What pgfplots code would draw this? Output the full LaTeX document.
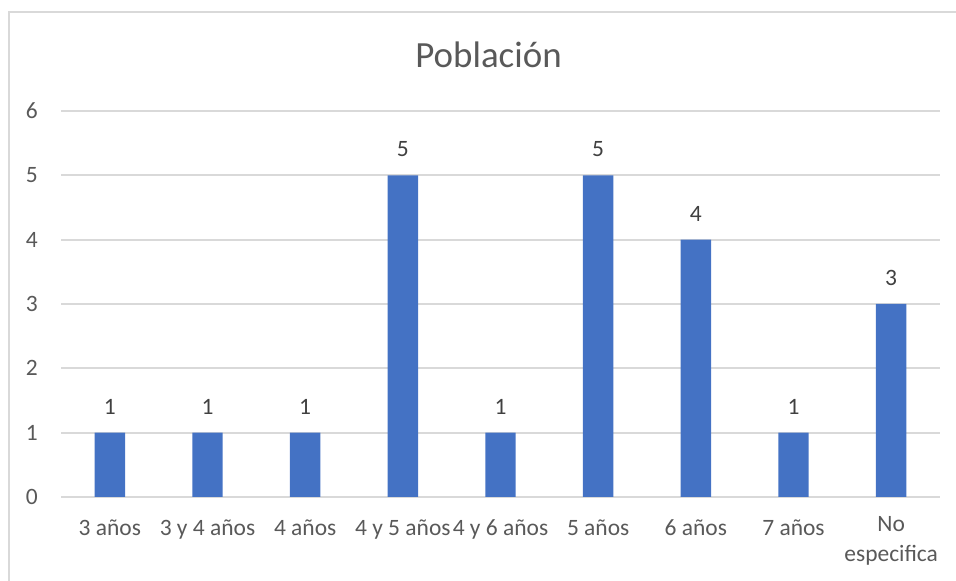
\documentclass[border=0pt]{standalone}
\usepackage{pgfplots}
\pgfplotsset{compat=1.18}
\usepackage{fontspec}
\setmainfont{Carlito}
\definecolor{barblue}{HTML}{4472C4}
\definecolor{gridgray}{HTML}{D9D9D9}
\definecolor{txtgray}{HTML}{595959}
\definecolor{lblgray}{HTML}{404040}
\begin{document}
\begin{tikzpicture}
\path[use as bounding box] (0,0) rectangle (717pt,435.75pt);
\draw[gridgray, line width=1.5pt] (6.75pt,-2pt) -- (6.75pt,426.75pt) -- (720pt,426.75pt);
\begin{axis}[
  at={(45.75pt,63pt)}, anchor=south west,
  scale only axis, width=659.25pt, height=289.5pt,
  xmin=-0.5, xmax=8.5, ymin=0, ymax=6,
  ybar, bar width=22.8pt,
  axis line style={draw=none},
  major tick length=0pt,
  ymajorgrids, grid style={gridgray, line width=1.5pt},
  ytick={0,1,2,3,4,5,6},
  xtick={0,1,2,3,4,5,6,7,8},
  xticklabels={3 años,3 y 4 años,4 años,4 y 5 años,4 y 6 años,5 años,6 años,7 años,No\\especifica},
  /pgf/number format/assume math mode=true,
  yticklabel style={anchor=east, inner sep=0pt, xshift=-17.25pt, text=txtgray, font=\fontsize{17.6}{22.5}\selectfont},
  xticklabel style={anchor=north, inner sep=0pt, yshift=-14.5pt, text=txtgray, align=center, execute at begin node={\rule{0pt}{14pt}}, font=\fontsize{17.6}{22.5}\selectfont},
  nodes near coords,
  every node near coord/.append style={anchor=base, inner sep=0pt, yshift=13.9pt, text=lblgray, font=\fontsize{17.6}{22.5}\selectfont},
]
\addplot[fill=barblue, draw=none] coordinates {(0,1) (1,1) (2,1) (3,5) (4,1) (5,5) (6,4) (7,1) (8,3)};
\end{axis}
\node[anchor=base, text=txtgray, inner sep=0pt, font=\fontsize{27.7}{33}\selectfont] at (366.4pt,384.75pt) {Población};
\end{tikzpicture}
\end{document}
